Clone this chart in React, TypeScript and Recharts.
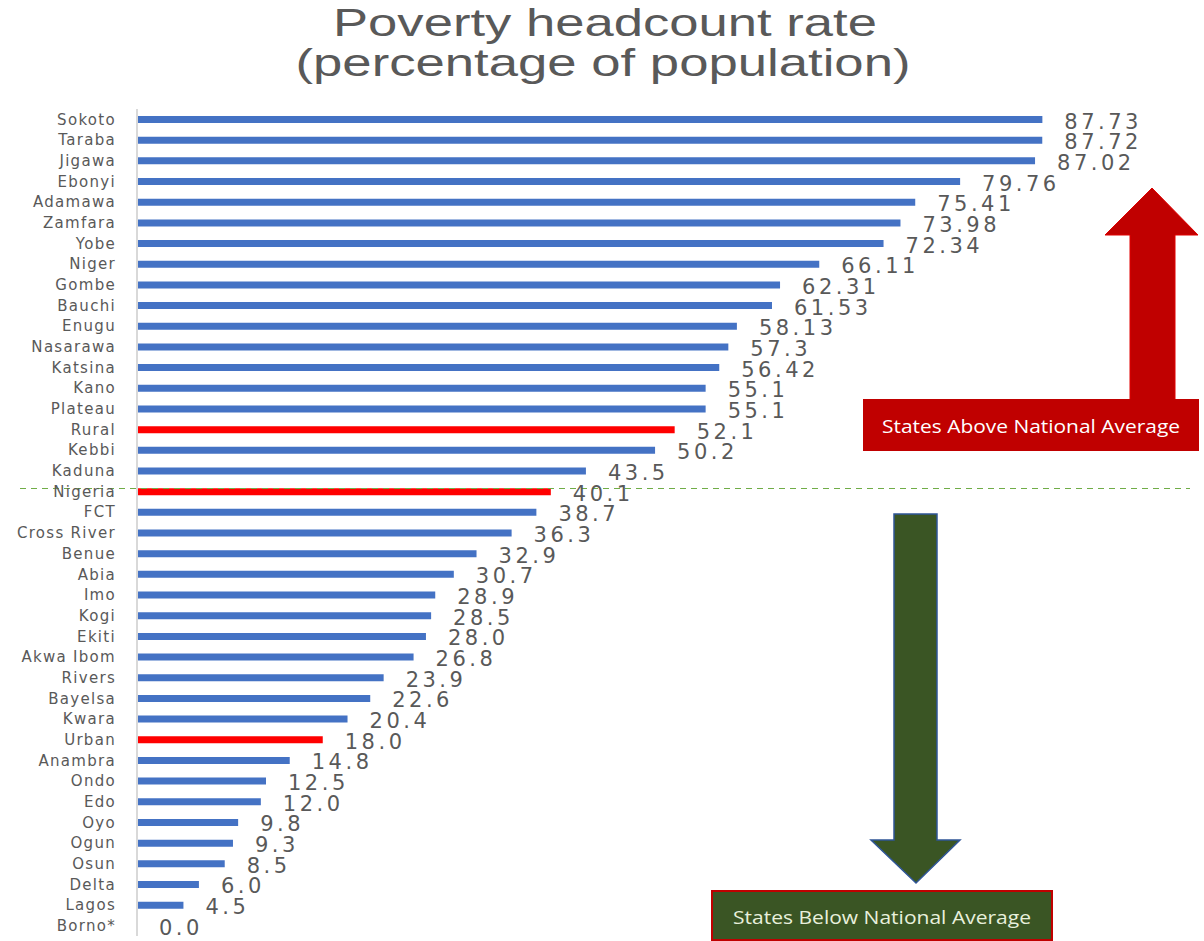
import React from "react";
import {
  BarChart,
  Bar,
  XAxis,
  YAxis,
  Cell,
  LabelList,
  ReferenceLine,
} from "recharts";

const states = [
  "Sokoto", "Taraba", "Jigawa", "Ebonyi", "Adamawa", "Zamfara", "Yobe", "Niger",
  "Gombe", "Bauchi", "Enugu", "Nasarawa", "Katsina", "Kano", "Plateau", "Rural",
  "Kebbi", "Kaduna", "Nigeria", "FCT", "Cross River", "Benue", "Abia", "Imo",
  "Kogi", "Ekiti", "Akwa Ibom", "Rivers", "Bayelsa", "Kwara", "Urban", "Anambra",
  "Ondo", "Edo", "Oyo", "Ogun", "Osun", "Delta", "Lagos", "Borno*",
];

const rates = [
  87.73, 87.72, 87.02, 79.76, 75.41, 73.98, 72.34, 66.11,
  62.31, 61.53, 58.13, 57.3, 56.42, 55.1, 55.1, 52.1,
  50.2, 43.5, 40.1, 38.7, 36.3, 32.9, 30.7, 28.9,
  28.5, 28.0, 26.8, 23.9, 22.6, 20.4, 18.0, 14.8,
  12.5, 12.0, 9.8, 9.3, 8.5, 6.0, 4.5, 0.0,
];

// rows drawn in red (aggregates rather than states)
const highlighted = ["Rural", "Nigeria", "Urban"];

const BLUE = "#4472C4";
const RED = "#FF0000";
const GRAY = "#595959";

const data = states.map((name, i) => ({ name, rate: rates[i] }));

const fmt = (v: number) =>
  Math.abs(Math.round(v * 10) - v * 10) < 1e-6 ? v.toFixed(1) : v.toFixed(2);

function ValueLabel(props: any) {
  const { x, y, width, height, value } = props;
  const v = Number(value);
  // a zero bar still gets minPointSize, so anchor its label at the axis
  const end = v === 0 ? x : x + width;
  return (
    <text
      x={end + 22}
      y={y + height / 2 + 2}
      dominantBaseline="central"
      fill={GRAY}
      fontSize={21}
      letterSpacing={3.5}
      fontFamily="DejaVu Sans"
    >
      {fmt(v)}
    </text>
  );
}

function AverageLine(props: any) {
  const { x1, x2, y1 } = props;
  return (
    <line
      x1={x1 - 117}
      x2={x2 + 21}
      y1={y1 - 3}
      y2={y1 - 3}
      stroke="#70AD47"
      strokeWidth={1.2}
      strokeDasharray="6 5"
    />
  );
}

export default function App() {
  return (
    <div
      style={{
        position: "absolute",
        left: 0,
        top: 0,
        width: 1204,
        height: 941,
        overflow: "hidden",
        background: "#fff",
      }}
    >
      <BarChart
        width={1204}
        height={941}
        data={data}
        layout="vertical"
        margin={{ top: 109, right: 35, bottom: 5, left: 0 }}
        barCategoryGap={0}
      >
        <XAxis type="number" domain={[0, 100]} hide />
        <YAxis
          type="category"
          dataKey="name"
          width={137}
          interval={0}
          tickLine={false}
          tickSize={0}
          tickMargin={21}
          axisLine={{ stroke: "#D9D9D9", strokeWidth: 2 }}
          tick={{ fill: GRAY, fontSize: 15, fontFamily: "DejaVu Sans", letterSpacing: 1.3 }}
        />
        <ReferenceLine y="Nigeria" shape={AverageLine} ifOverflow="visible" />
        <Bar dataKey="rate" barSize={7} minPointSize={0.5} isAnimationActive={false}>
          {data.map((d) => (
            <Cell key={d.name} fill={highlighted.includes(d.name) ? RED : BLUE} />
          ))}
          <LabelList dataKey="rate" content={ValueLabel} />
        </Bar>
      </BarChart>

      <svg
        width={1204}
        height={941}
        style={{ position: "absolute", left: 0, top: 0, pointerEvents: "none" }}
      >
        <text x={605} y={22} textAnchor="middle" dominantBaseline="central"
          fill={GRAY} fontSize={39} fontFamily="Liberation Sans"
          textLength={544} lengthAdjust="spacingAndGlyphs">
          Poverty  headcount rate
        </text>
        <text x={603} y={62} textAnchor="middle" dominantBaseline="central"
          fill={GRAY} fontSize={39} fontFamily="Liberation Sans"
          textLength={615} lengthAdjust="spacingAndGlyphs">
          (percentage of population)
        </text>

        {/* above average arrow + box */}
        <polygon
          points="1152,188 1198,235 1175,235 1175,400 1130,400 1130,235 1105,235"
          fill="#C00000"
          stroke="#E00000"
          strokeWidth={1}
        />
        <rect x={863} y={399} width={336} height={52} fill="#C00000" />
        <text x={1031} y={426} textAnchor="middle" dominantBaseline="central"
          fill="#fff" fontSize={18} fontFamily="Open Sans"
          textLength={298} lengthAdjust="spacingAndGlyphs">
          States Above National Average
        </text>

        {/* below average arrow + box */}
        <polygon
          points="894,514 937,514 937,840 960,840 916,883 871,840 894,840"
          fill="#3A5524"
          stroke="#2F5597"
          strokeWidth={1.5}
        />
        <rect x={712} y={891} width={340} height={49} fill="#3A5524" stroke="#C00000" strokeWidth={2} />
        <text x={882} y={917} textAnchor="middle" dominantBaseline="central"
          fill="#E8F0DC" fontSize={18} fontFamily="Open Sans"
          textLength={298} lengthAdjust="spacingAndGlyphs">
          States Below National Average
        </text>
      </svg>
    </div>
  );
}
